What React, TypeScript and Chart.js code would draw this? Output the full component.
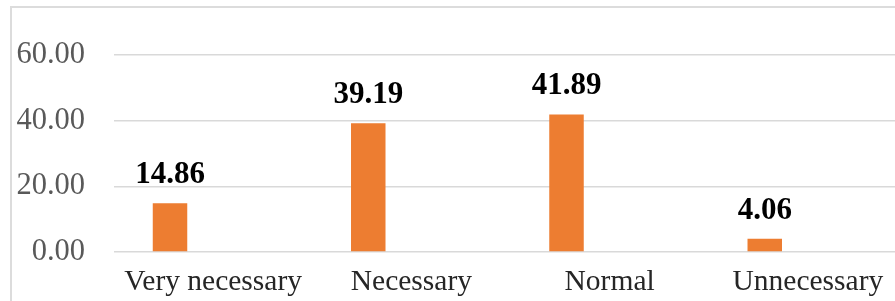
import React, { useEffect, useRef } from "react";
import { Chart, registerables } from "chart.js";

Chart.register(...registerables);

const categories = ["Very necessary", "Necessary", "Normal", "Unnecessary"];
const values = [14.86, 39.19, 41.89, 4.06];
const emptySeries: (number | null)[] = [null, null, null, null];
const yTicks = [0, 20, 40, 60];

const FONT = "'Liberation Serif', 'Times New Roman', serif";

const dataLabelPlugin = {
  id: "dataLabels",
  afterDatasetsDraw(chart: any) {
    const ctx = chart.ctx;
    const meta = chart.getDatasetMeta(0);
    ctx.save();
    ctx.font = `bold 31px ${FONT}`;
    ctx.fillStyle = "#000000";
    ctx.textAlign = "center";
    ctx.textBaseline = "alphabetic";
    meta.data.forEach((bar: any, i: number) => {
      const v = chart.data.datasets[0].data[i];
      ctx.fillText(Number(v).toFixed(2), bar.x, bar.y - 20);
    });
    ctx.restore();
  },
};

export default function App() {
  const ref = useRef<HTMLCanvasElement | null>(null);

  useEffect(() => {
    if (!ref.current) return;
    const chart = new Chart(ref.current, {
      type: "bar",
      data: {
        labels: categories,
        datasets: [
          {
            label: "Percent",
            data: values,
            backgroundColor: "#ED7D31",
            categoryPercentage: 0.87,
            barPercentage: 0.4,
          },
          {
            label: "Empty",
            data: emptySeries,
            backgroundColor: "#A5A5A5",
            categoryPercentage: 0.87,
            barPercentage: 0.4,
          },
        ],
      },
      options: {
        animation: false,
        responsive: false,
        maintainAspectRatio: false,
        layout: { padding: { left: 0, top: 55, right: 13, bottom: 0 } },
        plugins: {
          legend: { display: false },
          tooltip: { enabled: false },
        },
        scales: {
          x: {
            grid: { display: false, drawTicks: false },
            border: { display: false },
            ticks: {
              font: { family: FONT, size: 29.5 },
              color: "#262626",
              padding: 13,
              maxRotation: 0,
              autoSkip: false,
            },
            afterFit(scale: any) {
              scale.height = 68;
            },
          },
          y: {
            min: yTicks[0],
            max: yTicks[yTicks.length - 1],
            afterBuildTicks(scale: any) {
              scale.ticks = yTicks.map((v) => ({ value: v }));
            },
            grid: { color: "#d9d9d9", lineWidth: 1.5, drawTicks: false },
            border: { display: false },
            ticks: {
              font: { family: FONT, size: 30.5 },
              color: "#595959",
              padding: 29,
              callback: (v: any) => Number(v).toFixed(2),
            },
            afterFit(scale: any) {
              scale.width = 114;
            },
          },
        },
      },
      plugins: [dataLabelPlugin],
    });
    return () => chart.destroy();
  }, []);

  return (
    <div
      style={{
        position: "fixed",
        left: 0,
        top: 0,
        width: 895,
        height: 301,
        overflow: "hidden",
        background: "#ffffff",
      }}
    >
      <div
        style={{
          position: "absolute",
          left: 10,
          top: 6,
          width: 1000,
          height: 500,
          border: "2px solid #dcdcdc",
          boxSizing: "border-box",
        }}
      />
      <canvas
        ref={ref}
        width={920}
        height={320}
        style={{ position: "absolute", left: 0, top: 0, width: 920, height: 320 }}
      />
    </div>
  );
}
